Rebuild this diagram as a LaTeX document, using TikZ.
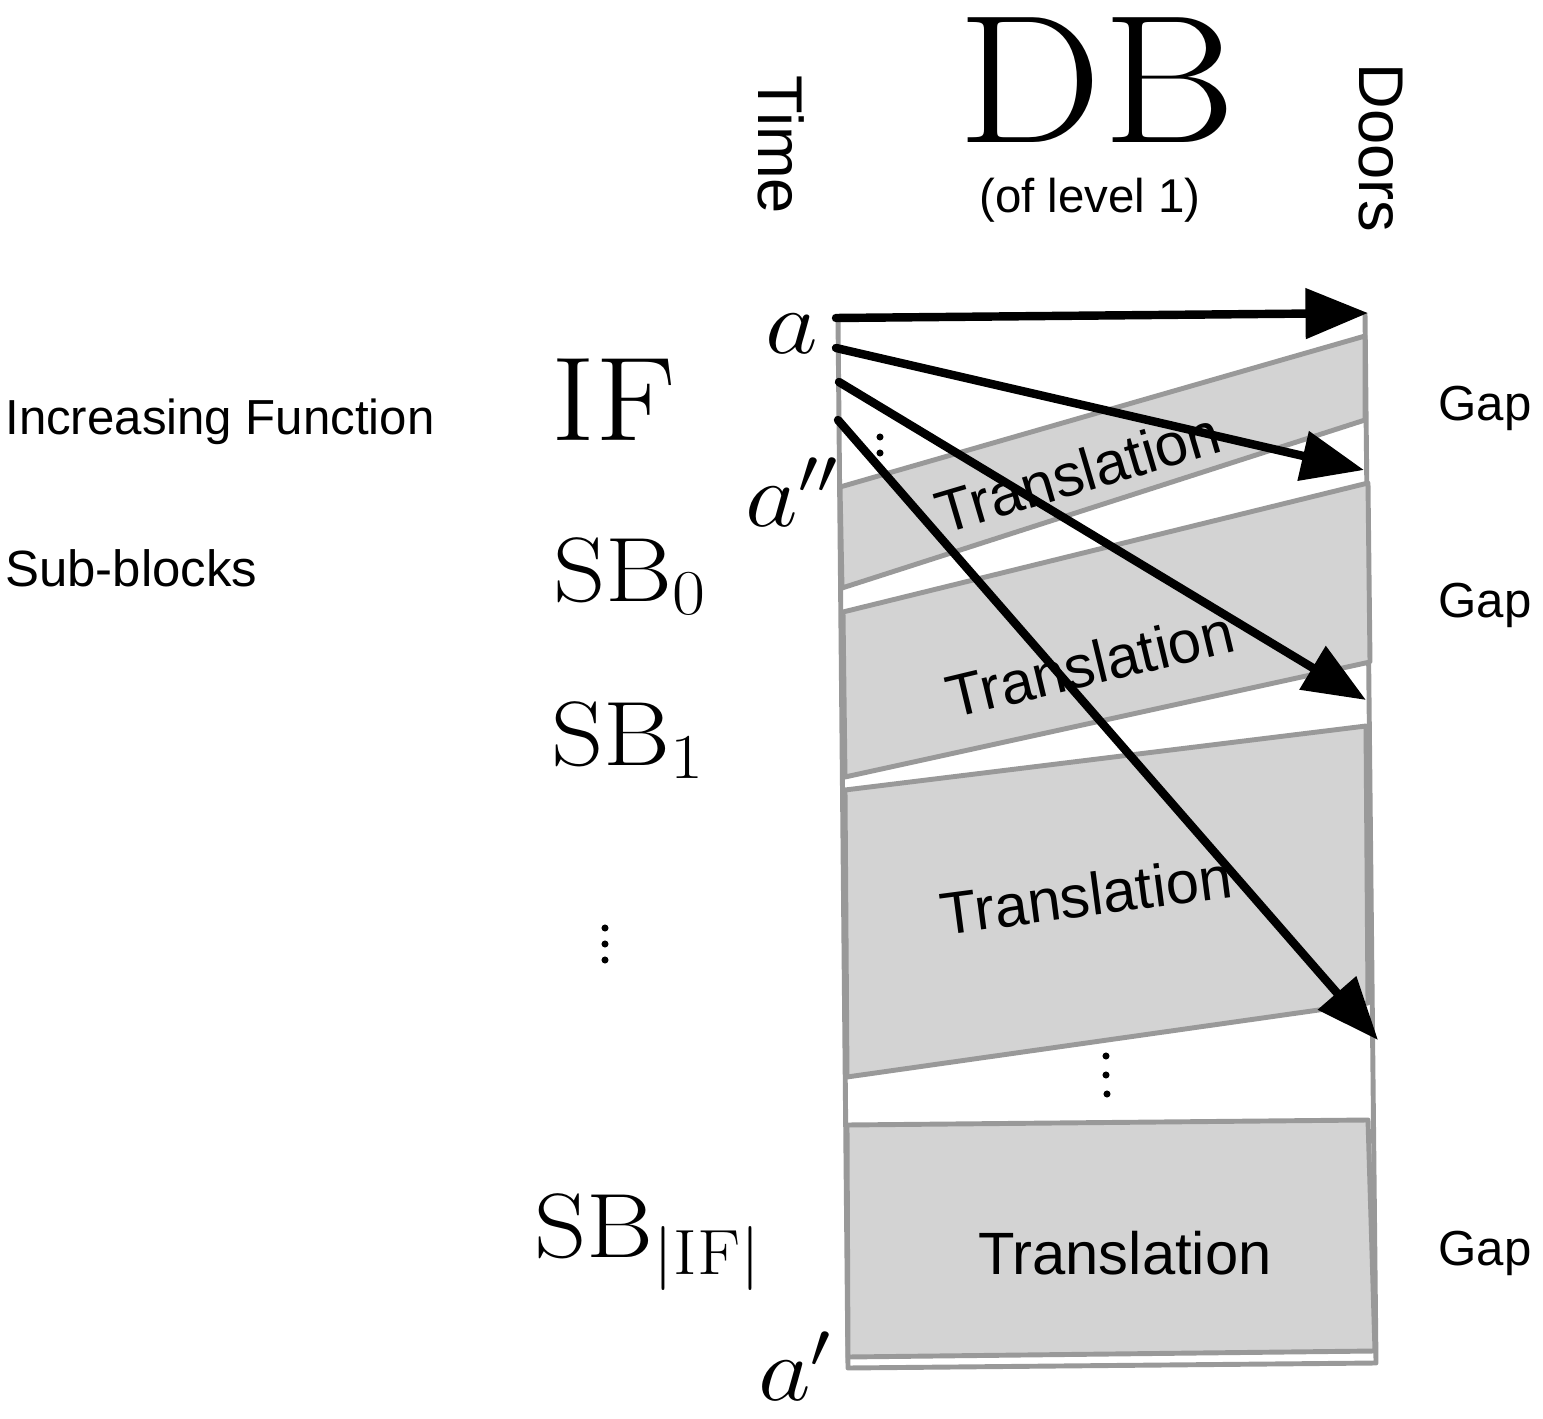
\RequirePackage{fix-cm}
\documentclass[tikz,border=0pt]{standalone}
\usepackage{graphicx}
\usepackage{fontspec}
\newfontfamily\hv{Liberation Sans}
\usetikzlibrary{arrows.meta}
\definecolor{bandfill}{HTML}{D3D3D3}
\definecolor{bandline}{HTML}{999999}
\newcommand{\hstretch}[1]{\scalebox{1.12}[1]{#1}}
\tikzset{
  band/.style={fill=bandfill, draw=bandline, line width=2.8pt, line join=round},
  frameline/.style={draw=bandline, line width=2.8pt, line join=round},
  arr/.style={line width=4.8pt, line cap=round, -{Triangle[length=1.25cm,width=0.98cm]}},
  sanslbl/.style={font=\hv\fontsize{28}{32}\selectfont, inner sep=0pt},
  translbl/.style={font=\hv\fontsize{34}{40}\selectfont, inner sep=0pt},
  axislbl/.style={font=\hv\fontsize{36}{40}\selectfont, inner sep=0pt, rotate=-90},
  mathlbl/.style={font=\fontsize{52}{60}\selectfont, inner sep=0pt},
  dotmark/.style={fill=black},
}
\begin{document}
\begin{tikzpicture}[x=0.02cm,y=-0.02cm]
\useasboundingbox (0,0) rectangle (1543,1419);

% frame
\draw[frameline] (838,318) -- (848,1368) -- (1376,1363) -- (1365,313);

% bands
\draw[band] (840,487) -- (1365,336) -- (1365,420) -- (842,588) -- cycle;
\draw[band] (843,612) -- (1368,483) -- (1370,662) -- (845,777) -- cycle;
\draw[band] (845,790) -- (1366,726) -- (1368,1003) -- (847,1077) -- cycle;
\draw[band] (847,1125) -- (1368,1120) -- (1375,1351) -- (848,1357) -- cycle;

% translation labels
\node[translbl, rotate=16.5] (t1) at (1078,472) {Translation};
\node[translbl, rotate=13.5] (t2) at (1090,664) {Translation};
\node[translbl, rotate=7.5] (t3) at (1086,895) {Translation};
\node[translbl] (t4) at (1125,1253) {Translation};

% header
\node[inner sep=0pt, font=\fontsize{104}{112}\selectfont] (db) at (1097,80) {\hstretch{DB}};
\node[sanslbl, font=\hv\fontsize{27}{32}\selectfont] (lvl) at (1090,200) {(of level 1)};
\node[axislbl] (time) at (781,145) {Time};
\node[axislbl] (doors) at (1381,148) {Doors};

% left labels
\node[sanslbl, anchor=west] (incf) at (5,422) {Increasing Function};
\node[sanslbl, anchor=west, font=\hv\fontsize{29}{32}\selectfont] (subb) at (5,568) {Sub-blocks};
\node[inner sep=0pt, font=\fontsize{68}{76}\selectfont] (if) at (614,400) {\hstretch{$\mathrm{IF}$}};
\node[mathlbl] (sb0) at (630,576) {\hstretch{$\mathrm{SB}_0$}};
\node[mathlbl] (sb1) at (628,740) {\hstretch{$\mathrm{SB}_1$}};
\node[mathlbl] (sbif) at (648,1242) {\hstretch{$\mathrm{SB}_{|\mathrm{IF}|}$}};

% time labels
\node[mathlbl] (a) at (792,334) {\hstretch{$a$}};
\node[mathlbl] (app) at (792,492) {\hstretch{$a''$}};
\node[mathlbl] (ap) at (795,1366) {\hstretch{$a'$}};

% gap labels
\node[sanslbl] (g1) at (1485,408) {Gap};
\node[sanslbl] (g2) at (1485,605) {Gap};
\node[sanslbl] (g3) at (1485,1253) {Gap};

% dots
\fill[dotmark] (880,437) circle[radius=2pt] (880,453) circle[radius=2pt] (880,469) circle[radius=2pt];
\fill[dotmark] (605,928) circle[radius=2pt] (605,944) circle[radius=2pt] (605,960) circle[radius=2pt];
\fill[dotmark] (1106,1056) circle[radius=2pt] (1106,1075) circle[radius=2pt] (1107,1094) circle[radius=2pt];

% arrows
\coordinate (s1) at (836,318);
\coordinate (s2) at (836,348);
\coordinate (s3) at (839,382);
\coordinate (s4) at (838,420);
\coordinate (e1) at (1368,313);
\coordinate (e2) at (1364,470);
\coordinate (e3) at (1366,700);
\coordinate (e4) at (1378,1040);
\draw[arr] (s1) -- (e1);
\draw[arr] (s2) -- (e2);
\draw[arr] (s3) -- (e3);
\draw[arr] (s4) -- (e4);
\end{tikzpicture}
\end{document}
